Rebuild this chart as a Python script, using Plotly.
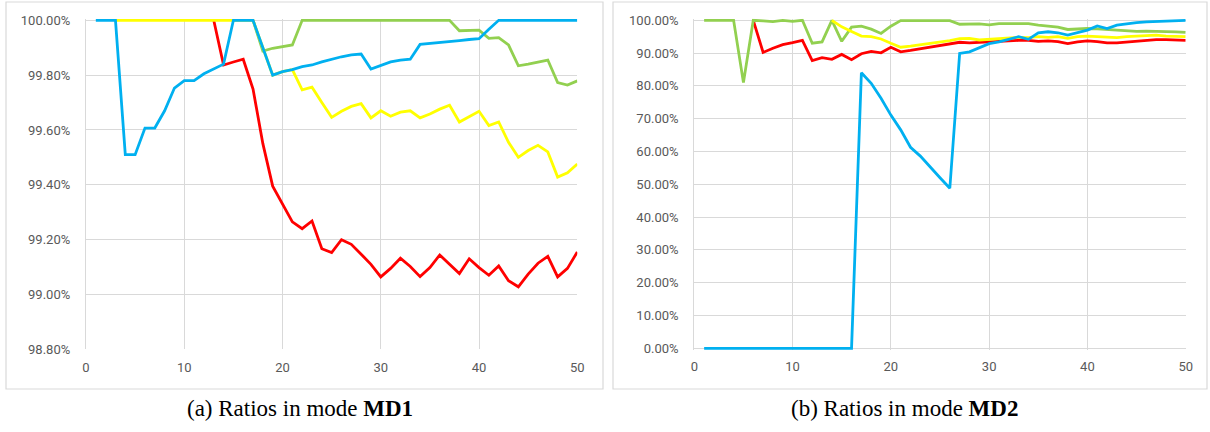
import plotly.graph_objects as go

# ---------------- data: mode MD1 (left) ----------------
md1_blue_x = list(range(1, 51))
md1_blue = [100, 100, 100, 99.51, 99.51, 99.607, 99.607, 99.67, 99.753, 99.78,
            99.78, 99.805, 99.823, 99.84, 100, 100, 100, 99.90, 99.80, 99.813,
            99.82, 99.831, 99.837, 99.848, 99.858, 99.867, 99.874, 99.877, 99.822, 99.835,
            99.848, 99.855, 99.858, 99.912, 99.915, 99.919, 99.923, 99.926, 99.93, 99.933,
            99.967, 100, 100, 100, 100, 100, 100, 100, 100, 100]

md1_red_x = list(range(13, 51))
md1_red = [100, 99.837, 99.848, 99.858, 99.749, 99.55, 99.395, 99.328, 99.265, 99.24,
           99.268, 99.167, 99.153, 99.20, 99.183, 99.147, 99.11, 99.064, 99.095, 99.132,
           99.102, 99.065, 99.098, 99.144, 99.11, 99.076, 99.13, 99.098, 99.07, 99.104,
           99.05, 99.028, 99.074, 99.114, 99.139, 99.064, 99.095, 99.155]

md1_yellow_x = list(range(3, 51))
md1_yellow = [100, 100, 100, 100, 100, 100, 100, 100, 100, 100,
              100, 100, 100, 100, 100, 99.90, 99.80, 99.813, 99.82, 99.746,
              99.756, 99.70, 99.646, 99.668, 99.686, 99.696, 99.644, 99.67, 99.65, 99.665,
              99.67, 99.644, 99.658, 99.676, 99.69, 99.629, 99.65, 99.668, 99.616, 99.629,
              99.555, 99.50, 99.525, 99.544, 99.52, 99.428, 99.444, 99.476]

md1_green_x = list(range(17, 51))
md1_green = [100, 99.888, 99.898, 99.905, 99.91, 100, 100, 100, 100, 100,
             100, 100, 100, 100, 100, 100, 100, 100, 100, 100,
             100, 99.962, 99.963, 99.964, 99.934, 99.937, 99.91, 99.834, 99.84, 99.848,
             99.855, 99.773, 99.764, 99.779]

# ---------------- data: mode MD2 (right) ----------------
md2_blue_x = list(range(1, 51))
md2_blue = [0, 0, 0, 0, 0, 0, 0, 0, 0, 0,
            0, 0, 0, 0, 0, 0, 84.0, 80.8, 76.2, 71.1,
            66.6, 61.3, 58.6, 55.2, 52.0, 48.8, 89.9, 90.4, 91.7, 92.9,
            93.4, 94.2, 95.0, 94.2, 96.2, 96.5, 96.2, 95.5, 96.3, 97.0,
            98.3, 97.5, 98.5, 99.0, 99.3, 99.5, 99.6, 99.7, 99.8, 100]

md2_green_x = list(range(1, 51))
md2_green = [100, 100, 100, 100, 81.0, 100, 99.8, 99.6, 100, 99.7,
             100, 93.0, 93.4, 100, 93.6, 97.9, 98.2, 97.3, 96.0, 98.2,
             99.9, 99.9, 100, 99.9, 99.9, 99.9, 98.8, 98.8, 98.9, 98.6,
             99.0, 99.0, 99.1, 99.0, 98.5, 98.3, 97.9, 97.2, 97.4, 97.5,
             97.4, 97.2, 97.0, 96.6, 96.6, 96.7, 96.7, 96.6, 96.5, 96.3]

md2_red_x = list(range(6, 51))
md2_red = [100, 90.2, 91.5, 92.6, 93.2, 93.9, 87.7, 88.6, 88.1, 89.6,
           88.0, 89.8, 90.5, 90.1, 91.8, 90.4, 90.8, 91.3, 91.9, 92.4,
           92.9, 93.3, 93.1, 93.2, 93.4, 93.5, 93.7, 93.9, 93.9, 93.6,
           93.7, 93.5, 92.9, 93.4, 93.7, 93.5, 93.1, 93.1, 93.4, 93.7,
           93.9, 94.1, 94.1, 94.1, 93.9]

md2_yellow_x = list(range(14, 51))
md2_yellow = [100, 98.0, 96.6, 95.2, 95.0, 94.3, 93.0, 91.8, 92.1, 92.5,
              93.0, 93.5, 93.8, 94.4, 94.5, 94.0, 94.2, 94.3, 94.5, 94.8,
              94.7, 95.0, 94.8, 95.0, 94.5, 95.0, 95.2, 95.0, 94.7, 94.7,
              95.0, 95.2, 95.3, 95.5, 95.2, 95.2, 95.0]

x_ticks = [0, 10, 20, 30, 40, 50]
md1_y_ticks = [98.8, 99.0, 99.2, 99.4, 99.6, 99.8, 100.0]
md2_y_ticks = [0, 10, 20, 30, 40, 50, 60, 70, 80, 90, 100]
md1_y_labels = [f"{v:.2f}%" for v in md1_y_ticks]
md2_y_labels = [f"{v:.2f}%" for v in md2_y_ticks]
captions = ["(a) Ratios in mode <b>MD1</b>", "(b) Ratios in mode <b>MD2</b>"]

RED, YELLOW, GREEN, BLUE = "#FF0000", "#FFFF00", "#92D050", "#00B0F0"
W, H = 1210, 432
LW = 2.8

fig = go.Figure()

def add(x, y, color, xa, ya):
    fig.add_trace(go.Scatter(x=x, y=y, mode="lines", xaxis=xa, yaxis=ya,
                             line=dict(color=color, width=LW), cliponaxis=False,
                             showlegend=False, hoverinfo="skip"))

# draw order: red, green, yellow, blue (blue on top)
add(md1_red_x, md1_red, RED, "x", "y")
add(md1_green_x, md1_green, GREEN, "x", "y")
add(md1_yellow_x, md1_yellow, YELLOW, "x", "y")
add(md1_blue_x, md1_blue, BLUE, "x", "y")

add(md2_red_x, md2_red, RED, "x2", "y2")
add(md2_green_x, md2_green, GREEN, "x2", "y2")
add(md2_yellow_x, md2_yellow, YELLOW, "x2", "y2")
add(md2_blue_x, md2_blue, BLUE, "x2", "y2")

tickfont = dict(family="Roboto, Liberation Sans, sans-serif", size=13, color="#595959")
common_axis = dict(showgrid=True, gridcolor="#D9D9D9", gridwidth=1, zeroline=False,
                   ticks="", tickfont=tickfont, fixedrange=True, automargin=False,
                   layer="below traces")
y_axis_line = dict(showline=True, linecolor="#D9D9D9", linewidth=1.3)
x_axis_line = dict(showline=False)

def px_x(p):
    return p / W

def px_y(p):
    return 1 - p / H

# small padding beyond the 0 / 100 gridlines so edge lines are not clipped
L_PX = 275.0          # pixels per 1 % on the left axis
R_PX = 3.28           # pixels per 1 % on the right axis
l_pad = 0.006
r_pad = 0.5

fig.update_layout(
    template="none",
    width=W, height=H,
    margin=dict(l=0, r=0, t=0, b=0, pad=0),
    paper_bgcolor="white", plot_bgcolor="white",
    xaxis=dict(domain=[px_x(86), px_x(577.3)], range=[0, 50], tickvals=x_ticks,
               anchor="y", ticklabelstandoff=9, **x_axis_line, **common_axis),
    yaxis=dict(domain=[px_y(349.3), px_y(20.3 - l_pad * L_PX)], range=[98.8, 100 + l_pad],
               tickmode="array", tickvals=md1_y_ticks, ticktext=md1_y_labels,
               anchor="x", ticklabelstandoff=12, **y_axis_line, **common_axis),
    xaxis2=dict(domain=[px_x(694.3), px_x(1185.7)], range=[0, 50], tickvals=x_ticks,
                anchor="y2", ticklabelstandoff=7, **x_axis_line, **common_axis),
    yaxis2=dict(domain=[px_y(348.3 + r_pad * R_PX), px_y(20.3 - r_pad * R_PX)],
                range=[-r_pad, 100 + r_pad],
                tickmode="array", tickvals=md2_y_ticks, ticktext=md2_y_labels,
                anchor="x2", ticklabelstandoff=12, **y_axis_line, **common_axis),
)

# chart-area borders
for x0, x1 in [(6, 603), (613, 1207)]:
    fig.add_shape(type="rect", xref="paper", yref="paper",
                  x0=px_x(x0), x1=px_x(x1), y0=px_y(389), y1=px_y(2),
                  line=dict(color="#D9D9D9", width=1.2), fillcolor="rgba(0,0,0,0)",
                  layer="below")

# captions
for cx, txt in zip([300, 905], captions):
    fig.add_annotation(text=txt, xref="paper", yref="paper", x=px_x(cx), y=px_y(408),
                       xanchor="center", yanchor="middle", showarrow=False,
                       font=dict(family="Liberation Serif, serif", size=23, color="black"))

fig.write_html("out.html", config={"displayModeBar": False},
               post_script="document.body.style.margin='0';document.body.style.overflow='hidden';")
